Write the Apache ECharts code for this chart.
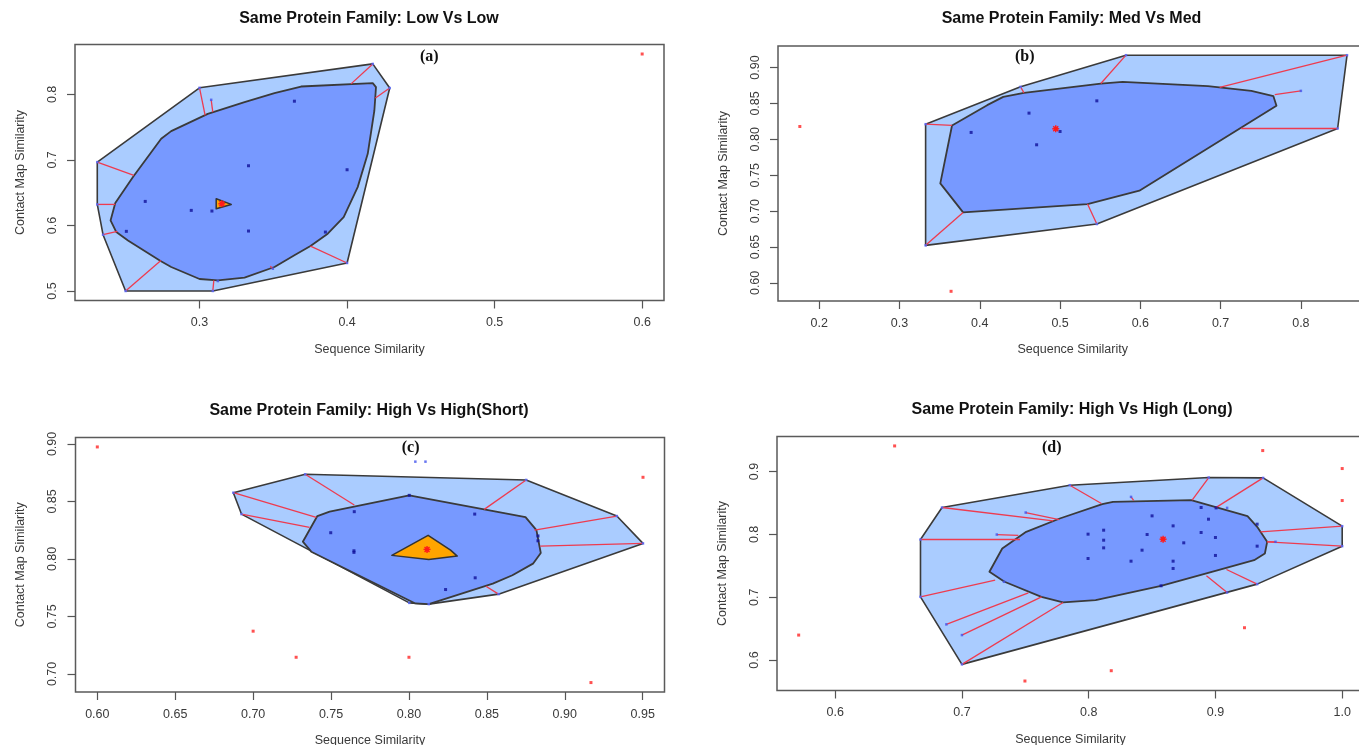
<!DOCTYPE html>
<html><head><meta charset="utf-8">
<script src="https://cdn.jsdelivr.net/npm/echarts@6/dist/echarts.min.js"></script>
<style>html,body{margin:0;padding:0;background:#fff}#c{width:1359px;height:745px}</style>
</head><body><div id="c"></div><script>
// ---------------- Panel (a): Low Vs Low ----------------
const A_title = 'Same Protein Family: Low Vs Low';
const A_tag = '(a)';
const A_xTicks = [0.3, 0.4, 0.5, 0.6];
const A_yTicks = [0.5, 0.6, 0.7, 0.8];
const A_xRange = [0.2156, 0.6148];
const A_yRange = [0.4855, 0.8761];
const A_loop = [[0.3000,0.8100],[0.4174,0.8465],[0.4289,0.8097],[0.4000,0.5427],[0.3090,0.5000],[0.2499,0.5000],[0.2346,0.5859],[0.2307,0.6321],[0.2307,0.6966]];
const A_bag = [[0.3688,0.8120],[0.4174,0.8171],[0.4196,0.8110],[0.4185,0.7754],[0.4140,0.7093],[0.4072,0.6585],[0.3977,0.6128],[0.3869,0.5874],[0.3752,0.5686],[0.3643,0.5544],[0.3508,0.5366],[0.3305,0.5203],[0.3124,0.5163],[0.3000,0.5183],[0.2808,0.5366],[0.2736,0.5457],[0.2515,0.5772],[0.2436,0.5899],[0.2397,0.6077],[0.2429,0.6341],[0.2549,0.6738],[0.2740,0.7322],[0.2808,0.7439],[0.3056,0.7703],[0.3305,0.7881],[0.3508,0.8018]];
const A_center = [[0.3113,0.6408],[0.3215,0.6321],[0.3113,0.6255]];
const A_median = [0.3151,0.6331];
const A_bagPts = [[0.3643,0.7896],[0.3332,0.6911],[0.4000,0.6850],[0.2632,0.6367],[0.2944,0.6230],[0.3084,0.6220],[0.3332,0.5915],[0.2504,0.5910],[0.3853,0.5899]];
const A_loopPts = [[0.3079,0.7917],[0.3497,0.5340],[0.3124,0.5152]];
const A_whiskers = [
  [[0.3000,0.8100],[0.3038,0.7678]],[[0.3079,0.7917],[0.3090,0.7729]],[[0.4174,0.8465],[0.4027,0.8160]],
  [[0.4289,0.8097],[0.4192,0.7944]],[[0.2307,0.6966],[0.2555,0.6763]],[[0.2307,0.6321],[0.2429,0.6321]],
  [[0.2346,0.5859],[0.2443,0.5910]],[[0.2499,0.5000],[0.2738,0.5467]],[[0.3090,0.5000],[0.3097,0.5163]],
  [[0.3497,0.5340],[0.3480,0.5380]],[[0.4000,0.5427],[0.3752,0.5686]]];
const A_outliers = [[0.6000,0.8616]];

// ---------------- Panel (b): Med Vs Med ----------------
const B_title = 'Same Protein Family: Med Vs Med';
const B_tag = '(b)';
const B_xTicks = [0.2, 0.3, 0.4, 0.5, 0.6, 0.7, 0.8];
const B_yTicks = [0.60, 0.65, 0.70, 0.75, 0.80, 0.85, 0.90];
const B_xRange = [0.1486, 0.8830];
const B_yRange = [0.5748, 0.9300];
const B_loop = [[0.3325,0.8211],[0.4508,0.8731],[0.5821,0.9172],[0.8575,0.9172],[0.8458,0.8151],[0.5458,0.6820],[0.3325,0.6523]];
const B_bag = [[0.3654,0.8193],[0.4092,0.8476],[0.4292,0.8592],[0.4550,0.8647],[0.5508,0.8777],[0.5779,0.8800],[0.6842,0.8740],[0.7383,0.8675],[0.7658,0.8601],[0.7696,0.8467],[0.5988,0.7284],[0.5342,0.7098],[0.3792,0.6982],[0.3508,0.7386]];
const B_center = [];
const B_median = [0.4946,0.8147];
const B_bagPts = [[0.3892,0.8096],[0.4613,0.8365],[0.4708,0.7924],[0.5000,0.8109],[0.5458,0.8536]];
const B_loopPts = [[0.8000,0.8675]];
const B_whiskers = [
  [[0.3325,0.8211],[0.3654,0.8193]],[[0.3325,0.6523],[0.3792,0.6982]],[[0.4508,0.8731],[0.4550,0.8647]],
  [[0.5821,0.9172],[0.5508,0.8777]],[[0.8575,0.9172],[0.6988,0.8722]],[[0.8000,0.8675],[0.7675,0.8624]],
  [[0.8458,0.8151],[0.7258,0.8151]],[[0.5458,0.6820],[0.5342,0.7098]]];
const B_outliers = [[0.1758,0.8179],[0.3642,0.5883]];

// ---------------- Panel (c): High Vs High (Short) ----------------
const C_title = 'Same Protein Family: High Vs High(Short)';
const C_tag = '(c)';
const C_xTicks = [0.60, 0.65, 0.70, 0.75, 0.80, 0.85, 0.90, 0.95];
const C_yTicks = [0.70, 0.75, 0.80, 0.85, 0.90];
const C_xRange = [0.5860, 0.9640];
const C_yRange = [0.6843, 0.9056];
const C_loop = [[0.6873,0.8576],[0.7334,0.8736],[0.8752,0.8687],[0.9334,0.8373],[0.9502,0.8135],[0.8575,0.7694],[0.8127,0.7607],[0.8002,0.7618],[0.6925,0.8390]];
const C_bag = [[0.8002,0.8553],[0.8748,0.8363],[0.8818,0.8250],[0.8846,0.8052],[0.8796,0.7959],[0.8664,0.7858],[0.8538,0.7785],[0.8127,0.7607],[0.8041,0.7613],[0.7373,0.8063],[0.7319,0.8150],[0.7412,0.8373],[0.7491,0.8411]];
const C_center = [[0.7890,0.8031],[0.8123,0.8205],[0.8267,0.8077],[0.8310,0.8025],[0.8127,0.7996]];
const C_median = [0.8116,0.8083];
const C_bagPts = [[0.7649,0.8411],[0.8422,0.8390],[0.7498,0.8228],[0.7647,0.8071],[0.7647,0.8057],[0.8425,0.7836],[0.8235,0.7734],[0.8828,0.8200],[0.8828,0.8158],[0.8002,0.8553]];
const C_loopPts = [[0.8041,0.8846],[0.8106,0.8846]];
const C_whiskers = [
  [[0.6873,0.8576],[0.7405,0.8361]],[[0.6925,0.8390],[0.7362,0.8274]],[[0.7334,0.8736],[0.7649,0.8469]],
  [[0.8752,0.8687],[0.8483,0.8431]],[[0.9334,0.8373],[0.8806,0.8251]],[[0.9502,0.8135],[0.8843,0.8112]],
  [[0.8575,0.7694],[0.8494,0.7763]]];
const C_outliers = [[0.6000,0.8974],[0.7000,0.7372],[0.7276,0.7145],[0.8000,0.7145],[0.9168,0.6925],[0.9502,0.8710]];

// ---------------- Panel (d): High Vs High (Long) ----------------
const D_title = 'Same Protein Family: High Vs High (Long)';
const D_tag = '(d)';
const D_xTicks = [0.6, 0.7, 0.8, 0.9, 1.0];
const D_yTicks = [0.6, 0.7, 0.8, 0.9];
const D_xRange = [0.5541, 1.0172];
const D_yRange = [0.5516, 0.9558];
const D_loop = [[0.6673,0.7919],[0.6843,0.8428],[0.7851,0.8783],[0.8947,0.8905],[0.9376,0.8899],[1.0000,0.8131],[1.0000,0.7813],[0.9329,0.7209],[0.7000,0.5932],[0.6673,0.7007]];
const D_bag = [[0.7217,0.7405],[0.7318,0.7776],[0.7507,0.8041],[0.7772,0.8253],[0.8107,0.8481],[0.8192,0.8518],[0.8808,0.8544],[0.9253,0.8290],[0.9329,0.8120],[0.9408,0.7882],[0.9390,0.7696],[0.9305,0.7590],[0.9000,0.7420],[0.8571,0.7182],[0.8055,0.6954],[0.7798,0.6917],[0.7627,0.7007],[0.7336,0.7246]];
const D_center = [];
const D_median = [0.8587,0.7924];
const D_bagPts = [[0.8500,0.8295],[0.8666,0.8136],[0.8461,0.7998],[0.8421,0.7749],[0.8334,0.7574],[0.8666,0.7574],[0.8666,0.7458],[0.8750,0.7866],[0.8887,0.8428],[0.8945,0.8242],[0.8887,0.8030],[0.9000,0.7951],[0.9000,0.7665],[0.8571,0.7182],[0.9005,0.8422],[0.7995,0.8004],[0.8118,0.8067],[0.8118,0.7908],[0.8118,0.7786],[0.7995,0.7617],[0.9329,0.7813],[0.9329,0.8163]];
const D_loopPts = [[0.9092,0.8422],[0.9474,0.7882],[0.8334,0.8597],[0.7332,0.7246],[0.7503,0.8348],[0.7275,0.7998],[0.6877,0.6568],[0.7000,0.6398],[0.9092,0.7076]];
const D_whiskers = [
  [[0.6843,0.8428],[0.7720,0.8216]],[[0.6673,0.7919],[0.7458,0.7919]],[[0.7503,0.8348],[0.7767,0.8237]],
  [[0.7275,0.7998],[0.7445,0.7983]],[[0.7851,0.8783],[0.8100,0.8491]],[[0.6673,0.7007],[0.7262,0.7272]],
  [[0.6877,0.6568],[0.7524,0.7071]],[[0.7000,0.6398],[0.7628,0.7007]],[[0.7000,0.5932],[0.7798,0.6917]],
  [[0.8947,0.8905],[0.8816,0.8544]],[[0.9376,0.8899],[0.9000,0.8422]],[[1.0000,0.8131],[0.9355,0.8041]],
  [[1.0000,0.7813],[0.9408,0.7882]],[[0.9329,0.7209],[0.9087,0.7442]],[[0.9092,0.7076],[0.8929,0.7341]],
  [[0.8334,0.8597],[0.8355,0.8540]],[[0.9474,0.7882],[0.9408,0.7882]]];
const D_outliers = [[0.6469,0.9408],[0.5712,0.6398],[0.7497,0.5667],[0.8178,0.5831],[0.9229,0.6515],[0.9373,0.9334],[1.0000,0.9048],[1.0000,0.8539]];

const xName = 'Sequence Similarity';
const yName = 'Contact Map Similarity';

// ---------------- layout & styles ----------------
const panels = [
  {title:A_title, tag:A_tag, xT:A_xTicks, yT:A_yTicks, xDec:1, yDec:1, xR:A_xRange, yR:A_yRange, loop:A_loop, bag:A_bag, center:A_center, median:A_median, bagPts:A_bagPts, loopPts:A_loopPts, wh:A_whiskers, out:A_outliers,
   box:{left:75, top:44.5, width:589, height:256}, tPos:[369,18.3], tagPos:[429.3,56.7]},
  {title:B_title, tag:B_tag, xT:B_xTicks, yT:B_yTicks, xDec:1, yDec:2, xR:B_xRange, yR:B_yRange, loop:B_loop, bag:B_bag, center:B_center, median:B_median, bagPts:B_bagPts, loopPts:B_loopPts, wh:B_whiskers, out:B_outliers,
   box:{left:778, top:46, width:589.5, height:255}, tPos:[1071.5,18.5], tagPos:[1024.7,57.3]},
  {title:C_title, tag:C_tag, xT:C_xTicks, yT:C_yTicks, xDec:2, yDec:2, xR:C_xRange, yR:C_yRange, loop:C_loop, bag:C_bag, center:C_center, median:C_median, bagPts:C_bagPts, loopPts:C_loopPts, wh:C_whiskers, out:C_outliers,
   box:{left:75.5, top:437.5, width:589, height:254.5}, tPos:[369,410.5], tagPos:[410.6,448.3]},
  {title:D_title, tag:D_tag, xT:D_xTicks, yT:D_yTicks, xDec:1, yDec:1, xR:D_xRange, yR:D_yRange, loop:D_loop, bag:D_bag, center:D_center, median:D_median, bagPts:D_bagPts, loopPts:D_loopPts, wh:D_whiskers, out:D_outliers,
   box:{left:777, top:436.5, width:587, height:254}, tPos:[1072,409.5], tagPos:[1051.7,448.3]}
];

const FONT = '"Liberation Sans", Arial, Helvetica, sans-serif';
const LOOP_FILL = '#aaccff', BAG_FILL = '#7799ff', HULL_STROKE = '#3a3a3a';
const WHISKER = '#ee3b4f';

function polySeries(i, poly, fill, stroke, lw, z) {
  return {
    type:'custom', xAxisIndex:i, yAxisIndex:i, z, silent:true, clip:false,
    data: poly.length ? [poly[0]] : [],
    renderItem: (params, api) => ({
      type:'polygon',
      shape:{ points: poly.map(p => api.coord(p)) },
      style:{ fill, stroke, lineWidth: lw, lineJoin:'round' }
    })
  };
}

const grids = [], xAxes = [], yAxes = [], series = [], graphics = [];
panels.forEach((p, i) => {
  grids.push(Object.assign({show:true, borderColor:'#5a5a5a', borderWidth:1.5, backgroundColor:'transparent',
    containLabel:false, outerBoundsMode:'none'}, p.box));
  xAxes.push({
    gridIndex:i, type:'value', min:p.xR[0], max:p.xR[1],
    splitLine:{show:false}, axisLine:{show:false},
    axisTick:{show:true, length:8, customValues:p.xT, lineStyle:{color:'#555', width:1.2}},
    axisLabel:{customValues:p.xT, formatter:v => v.toFixed(p.xDec), fontSize:12.5, color:'#3a3a3a', margin:16, fontFamily:FONT},
    name:xName, nameLocation:'middle', nameGap:42.5,
    nameTextStyle:{fontSize:12.5, color:'#3a3a3a', fontFamily:FONT}
  });
  yAxes.push({
    gridIndex:i, type:'value', min:p.yR[0], max:p.yR[1],
    splitLine:{show:false}, axisLine:{show:false},
    axisTick:{show:true, length:8, customValues:p.yT, lineStyle:{color:'#555', width:1.2}},
    axisLabel:{customValues:p.yT, formatter:v => v.toFixed(p.yDec), rotate:90, fontSize:12.5, color:'#3a3a3a', margin:16, fontFamily:FONT},
    name:yName, nameLocation:'middle', nameGap:48,
    nameTextStyle:{fontSize:12.5, color:'#3a3a3a', fontFamily:FONT}
  });
  series.push(polySeries(i, p.loop, LOOP_FILL, HULL_STROKE, 1.6, 1));
  series.push(polySeries(i, p.bag, BAG_FILL, HULL_STROKE, 1.8, 2));
  series.push({
    type:'custom', xAxisIndex:i, yAxisIndex:i, z:3, silent:true, clip:false,
    data: p.wh.map(w => [w[0][0], w[0][1], w[1][0], w[1][1]]),
    encode:{x:[0,2], y:[1,3]},
    renderItem: (params, api) => {
      const a = api.coord([api.value(0), api.value(1)]);
      const b = api.coord([api.value(2), api.value(3)]);
      return {type:'line', shape:{x1:a[0], y1:a[1], x2:b[0], y2:b[1]}, style:{stroke:WHISKER, lineWidth:1.3}};
    }
  });
  // hull vertices are loop points too
  series.push({type:'scatter', xAxisIndex:i, yAxisIndex:i, z:4, silent:true, symbol:'rect', symbolSize:2.5,
    itemStyle:{color:'#5566ff'}, data:p.loop});
  series.push({type:'scatter', xAxisIndex:i, yAxisIndex:i, z:5, silent:true, symbol:'rect', symbolSize:2.5,
    itemStyle:{color:'#4455ee'}, data:p.loopPts});
  series.push({type:'scatter', xAxisIndex:i, yAxisIndex:i, z:5, silent:true, symbol:'rect', symbolSize:3,
    itemStyle:{color:'#10109a'}, data:p.bagPts});
  if (p.center.length) series.push(polySeries(i, p.center, '#ffa500', '#333', 1.5, 6));
  series.push({type:'scatter', xAxisIndex:i, yAxisIndex:i, z:5, silent:true, symbol:'rect', symbolSize:3,
    itemStyle:{color:'#ff2525'}, data:p.out});
  series.push({
    type:'custom', xAxisIndex:i, yAxisIndex:i, z:7, silent:true, clip:false,
    data:[p.median],
    renderItem: (params, api) => {
      const c = api.coord([api.value(0), api.value(1)]);
      const r = 3.5, d = 2.5, st = {stroke:'#ff1a1a', lineWidth:1.4};
      return {type:'group', children:[
        {type:'circle', shape:{cx:c[0], cy:c[1], r:2.2}, style:{fill:'#ff2a2a'}},
        {type:'line', shape:{x1:c[0]-r, y1:c[1], x2:c[0]+r, y2:c[1]}, style:st},
        {type:'line', shape:{x1:c[0], y1:c[1]-r, x2:c[0], y2:c[1]+r}, style:st},
        {type:'line', shape:{x1:c[0]-d, y1:c[1]-d, x2:c[0]+d, y2:c[1]+d}, style:st},
        {type:'line', shape:{x1:c[0]-d, y1:c[1]+d, x2:c[0]+d, y2:c[1]-d}, style:st}
      ]};
    }
  });
  graphics.push({type:'text', x:p.tPos[0], y:p.tPos[1], silent:true,
    style:{text:p.title, font:'bold 16px ' + FONT, fill:'#111', align:'center', verticalAlign:'middle'}});
  graphics.push({type:'text', x:p.tagPos[0], y:p.tagPos[1], silent:true, z:100,
    style:{text:p.tag, font:'bold 16px "Liberation Serif", "Times New Roman", serif', fill:'#111', align:'center', verticalAlign:'middle'}});
});

const chart = echarts.init(document.getElementById('c'), null, {renderer:'canvas'});
chart.setOption({
  animation:false,
  backgroundColor:'#ffffff',
  grid:grids, xAxis:xAxes, yAxis:yAxes, series, graphic:graphics
});
</script></body></html>
